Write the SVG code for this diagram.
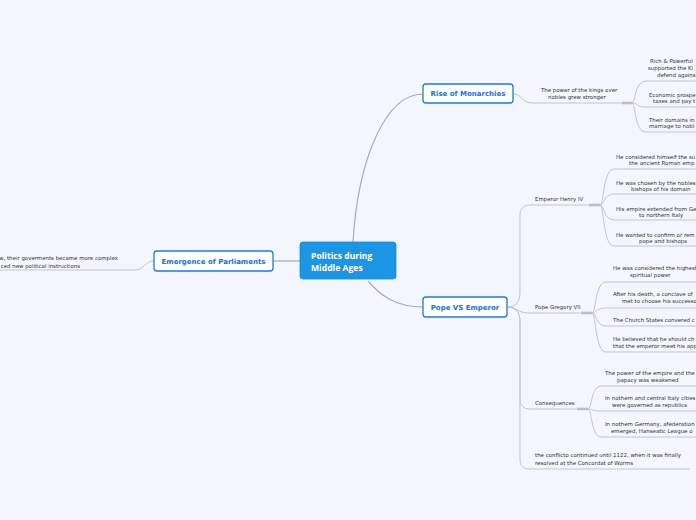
<svg xmlns="http://www.w3.org/2000/svg" width="696" height="520" viewBox="0 0 696 520">
<style>
.bg{fill:#f3f6fd}
.c{fill:none;stroke:#c3c5cd;stroke-width:1}
.cm{fill:none;stroke:#a9abb3;stroke-width:1.2}
.bar{stroke:#bcbec6;stroke-width:2.6}
.t{font-family:"DejaVu Sans",Verdana,sans-serif;font-size:5.45px;fill:#333}
.main{fill:#1c95e5;stroke:#1a88d6;stroke-width:0.8}
.mt{font-family:"Open Sans","DejaVu Sans",sans-serif;font-weight:bold;font-size:8.6px;fill:#fff}
.n1{fill:#fff;stroke:#1f7bd8;stroke-width:1.3}
.n1t{font-family:"DejaVu Sans",Verdana,sans-serif;font-weight:bold;font-size:7px;fill:#1a6fd2;text-anchor:middle}
</style>
<rect class="bg" width="696" height="520"/>
<g id="connectors">
<path class="cm" d="M353,242 C358,160 385,94 423,94"/>
<path class="cm" d="M368,281 C380,295 395,307 423,307"/>
<path class="cm" d="M300,261 H273"/>
<path class="c" d="M154,261 C145,261 144,270 135,270 H0"/>
<path class="c" d="M513,94 C522,94 522,103 532,103 H632"/>
<path class="bar" d="M622,103 H632"/>
<path class="c" d="M632,103 C636,103 634,81 646,81 H696"/>
<path class="c" d="M632,103 C638,103 636,107 646,107 H696"/>
<path class="c" d="M632,103 C636,103 634,132 646,132 H696"/>
<path class="c" d="M507,307 C516,307 520,302 520,292 V216 C520,209 523,205 530,205 H600"/>
<path class="c" d="M507,307 C517,307 518,313 528,313 H592"/>
<path class="c" d="M507,307 C516,307 520,312 520,322 V398 C520,405 523,409 530,409 H588"/>
<path class="c" d="M507,307 C516,307 520,312 520,322 V459 C520,466 523,469 530,469 H690"/>
<path class="bar" d="M589,205 H600"/>
<path class="bar" d="M581,313 H592"/>
<path class="bar" d="M577,409 H588"/>
<path class="c" d="M600,205 C604,205 603,169 614,169 H696"/>
<path class="c" d="M600,205 C605,205 603,194 614,194 H696"/>
<path class="c" d="M600,205 C605,205 603,220 614,220 H696"/>
<path class="c" d="M600,205 C604,205 603,246 614,246 H696"/>
<path class="c" d="M592,313 C596,313 595,282 606,282 H696"/>
<path class="c" d="M592,313 C597,313 595,308 606,308 H696"/>
<path class="c" d="M592,313 C597,313 595,326 606,326 H696"/>
<path class="c" d="M592,313 C596,313 595,352 606,352 H696"/>
<path class="c" d="M588,409 C592,409 591,386 601,386 H696"/>
<path class="c" d="M588,409 C593,409 591,411 601,411 H696"/>
<path class="c" d="M588,409 C592,409 591,437 601,437 H696"/>
</g>
<g id="center">
<rect class="main" x="300" y="242" width="96" height="37" rx="3"/>
<text class="mt" x="311" y="259">Politics during</text>
<text class="mt" x="311" y="270.5">Middle Ages</text>
</g>
<g id="rise">
<rect class="n1" x="423" y="84" width="90" height="19" rx="3"/>
<text class="n1t" x="468" y="96">Rise of Monarchies</text>
</g>
<g id="pope">
<rect class="n1" x="423" y="297" width="84" height="20" rx="3"/>
<text class="n1t" x="465" y="310">Pope VS Emperor</text>
</g>
<g id="parl">
<rect class="n1" x="154" y="251" width="119" height="20" rx="3"/>
<text class="n1t" x="213.5" y="264">Emergence of Parliaments</text>
</g>
<g id="parl-text">
<text class="t" x="118" y="260" text-anchor="end">w, their goverments became more complex</text>
<text class="t" x="80" y="268" text-anchor="end">ced new political instructions</text>
</g>
<g id="kings">
<text class="t" x="541" y="92">The power of the kings over</text>
<text class="t" x="548" y="99">nobles grew stronger</text>
</g>
<g id="rise-c1"><text class="t" x="650" y="63">Rich &amp; Powerful</text><text class="t" x="648" y="70">supported the Ki</text><text class="t" x="657" y="77">defend agains</text></g>
<g id="rise-c2"><text class="t" x="649" y="97">Economic prospe</text><text class="t" x="653" y="103">taxes and pay t</text></g>
<g id="rise-c3"><text class="t" x="649" y="122">Their domains in</text><text class="t" x="649" y="128">marriage to nobl</text></g>
<g id="henry"><text class="t" x="535" y="201">Emperor Henry IV</text></g>
<g id="henry-c1"><text class="t" x="616" y="159">He considered himself the su</text><text class="t" x="629" y="165">the ancient Roman emp</text></g>
<g id="henry-c2"><text class="t" x="616" y="185">He was chosen by the nobles</text><text class="t" x="631" y="191">bishops of his domain</text></g>
<g id="henry-c3"><text class="t" x="616" y="211">His empire extended from Ge</text><text class="t" x="639" y="217">to northern Italy</text></g>
<g id="henry-c4"><text class="t" x="616" y="237">He wanted to confirm or rem</text><text class="t" x="639" y="243">pope and bishops</text></g>
<g id="gregory"><text class="t" x="535" y="309">Pope Gregory VII</text></g>
<g id="greg-c1"><text class="t" x="613" y="270">He was considered the highest</text><text class="t" x="630" y="277">spiritual power</text></g>
<g id="greg-c2"><text class="t" x="613" y="296">After his death, a conclave of</text><text class="t" x="622" y="303">met to choose his successo</text></g>
<g id="greg-c3"><text class="t" x="613" y="322">The Church States convered c</text></g>
<g id="greg-c4"><text class="t" x="613" y="341">He believed that he should ch</text><text class="t" x="613" y="348">that the emperor meet his app</text></g>
<g id="conseq"><text class="t" x="535" y="405">Consequences</text></g>
<g id="cons-c1"><text class="t" x="605" y="375">The power of the empire and the</text><text class="t" x="617" y="382">papacy was weakened</text></g>
<g id="cons-c2"><text class="t" x="605" y="400">In nothern and central Italy cities</text><text class="t" x="612" y="407">were governed as republics</text></g>
<g id="cons-c3"><text class="t" x="605" y="426">In nothern Germany, afederation</text><text class="t" x="611" y="433">emerged, Hanseatic League o</text></g>
<g id="conflict"><text class="t" x="535" y="457">the conflicto continued until 1122, when it was finally</text><text class="t" x="535" y="465">resolved at the Concordat of Worms</text></g>
</svg>
